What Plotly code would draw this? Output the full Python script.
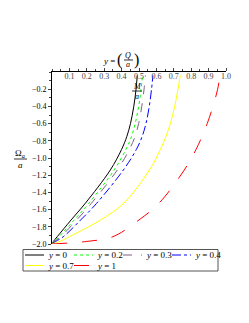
import plotly.graph_objects as go

omega = [-2.0, -1.97, -1.915, -1.72, -1.53, -1.14, -0.9, -0.75, -0.6, -0.4, -0.2, -0.04]
x_y0 = [0, 0.008, 0.03, 0.11, 0.19, 0.335, 0.4, 0.43, 0.451, 0.47, 0.483, 0.49]
x_y02 = [0, 0.011, 0.04, 0.128, 0.21, 0.357, 0.425, 0.457, 0.478, 0.498, 0.512, 0.52]
x_y03 = [0, 0.015, 0.05, 0.142, 0.225, 0.375, 0.445, 0.477, 0.498, 0.516, 0.529, 0.537]
x_y04 = [0, 0.022, 0.065, 0.165, 0.255, 0.41, 0.485, 0.518, 0.54, 0.559, 0.572, 0.58]
x_y07 = [0, 0.045, 0.1, 0.28, 0.41, 0.56, 0.623, 0.655, 0.68, 0.705, 0.724, 0.737]
x_y1 = [0, 0.2, 0.35, 0.5, 0.613, 0.76, 0.828, 0.862, 0.892, 0.925, 0.952, 0.965]

series = [
    ("<i>y</i> = 0", x_y0, "#000000", "solid"),
    ("<i>y</i> = 0.2", x_y02, "#00ff00", "dot"),
    ("<i>y</i> = 0.3", x_y03, "#7f6080", "dash"),
    ("<i>y</i> = 0.4", x_y04, "#0000ff", "dashdot"),
    ("<i>y</i> = 0.7", x_y07, "#ffff00", "solid"),
    ("<i>y</i> = 1", x_y1, "#ff0000", "longdash"),
]

xticks = [0.1, 0.2, 0.3, 0.4, 0.5, 0.6, 0.7, 0.8, 0.9, 1.0]
yticks = [-0.2, -0.4, -0.6, -0.8, -1.0, -1.2, -1.4, -1.6, -1.8, -2.0]

FONT = "Liberation Serif"
fig = go.Figure()
for name, xs, col, dash in series:
    fig.add_trace(go.Scatter(x=xs, y=omega, mode="lines", name=name, showlegend=False,
                             line=dict(color=col, dash=dash, width=1,
                                       shape="spline", smoothing=1.0)))

# page has an 8px body margin: figure coords = page coords - 8
fig.update_layout(
    width=241, height=315,
    margin=dict(l=44, r=23, t=64, b=79),
    paper_bgcolor="white", plot_bgcolor="white",
    font=dict(family=FONT, size=9, color="black"),
    showlegend=False,
    xaxis=dict(side="top", range=[0, 1.0], tickvals=xticks,
               ticktext=[f"{v:.1f}" for v in xticks],
               ticklabelposition="inside", ticklabeloverflow="allow",
               ticks="outside", ticklen=3,
               showline=True, linecolor="black", linewidth=1, showgrid=False,
               zeroline=False, tickfont=dict(size=8),
               minor=dict(ticks="outside", ticklen=2, dtick=0.05, showgrid=False)),
    yaxis=dict(range=[-2.0, 0], tickvals=yticks,
               ticktext=[f"{v:.1f}".replace("-", "\u2212") for v in yticks],
               ticks="outside", ticklen=3, showline=True, linecolor="black",
               linewidth=1, showgrid=False, zeroline=False, tickfont=dict(size=8),
               minor=dict(ticks="outside", ticklen=2, dtick=0.1, showgrid=False)),
)

# page pixel -> paper helpers (plot area on page: x 52..226, y 72..244)
def px(p):
    return (p - 52) / 174.0

def py(p):
    return (244 - p) / 172.0

ann = []
shapes = []

def text(x, y, t, size=9, xanchor="center"):
    ann.append(dict(x=px(x), y=py(y), xref="paper", yref="paper", text=t,
                    showarrow=False, xanchor=xanchor, yanchor="middle",
                    font=dict(size=size, family=FONT, color="black")))

def hline(x0, x1, y, color="black", width=0.8, dash="solid"):
    shapes.append(dict(type="line", xref="paper", yref="paper", x0=px(x0), x1=px(x1),
                       y0=py(y), y1=py(y), line=dict(color=color, width=width, dash=dash)))

# x-axis title y = (Q/a)
text(109, 61, "<i>y</i> =", 9)
text(119, 60, "(", 16)
text(136, 60, ")", 16)
text(128, 55, "<i>Q</i>", 8)
text(128, 65, "<i>a</i>", 8)
hline(124, 133, 60)
# M/a label
text(137, 86, "<i>M</i>", 8)
text(137, 96, "<i>a</i>", 8)
hline(132, 142, 91)
# y-axis label
text(20, 153, "Ω<sub><i>a</i></sub>", 9)
text(20, 165, "<i>a</i>", 9)
hline(14, 27, 159)

# legend box
shapes.append(dict(type="rect", xref="paper", yref="paper", x0=px(23), x1=px(218),
                   y0=py(249.5), y1=py(271), line=dict(color="#555555", width=1),
                   fillcolor="rgba(0,0,0,0)"))
cols = [25, 74, 123, 172]
for i, (name, xs, col, dash) in enumerate(series):
    r, c = divmod(i, 4)
    cx = cols[c]
    cy = 255 + r * 10.5
    hline(cx, cx + 19, cy, color=col, width=1, dash=dash)
    text(cx + 21, cy, name, 9, xanchor="left")

fig.update_layout(annotations=ann, shapes=shapes)

fig.write_html("out.html")
